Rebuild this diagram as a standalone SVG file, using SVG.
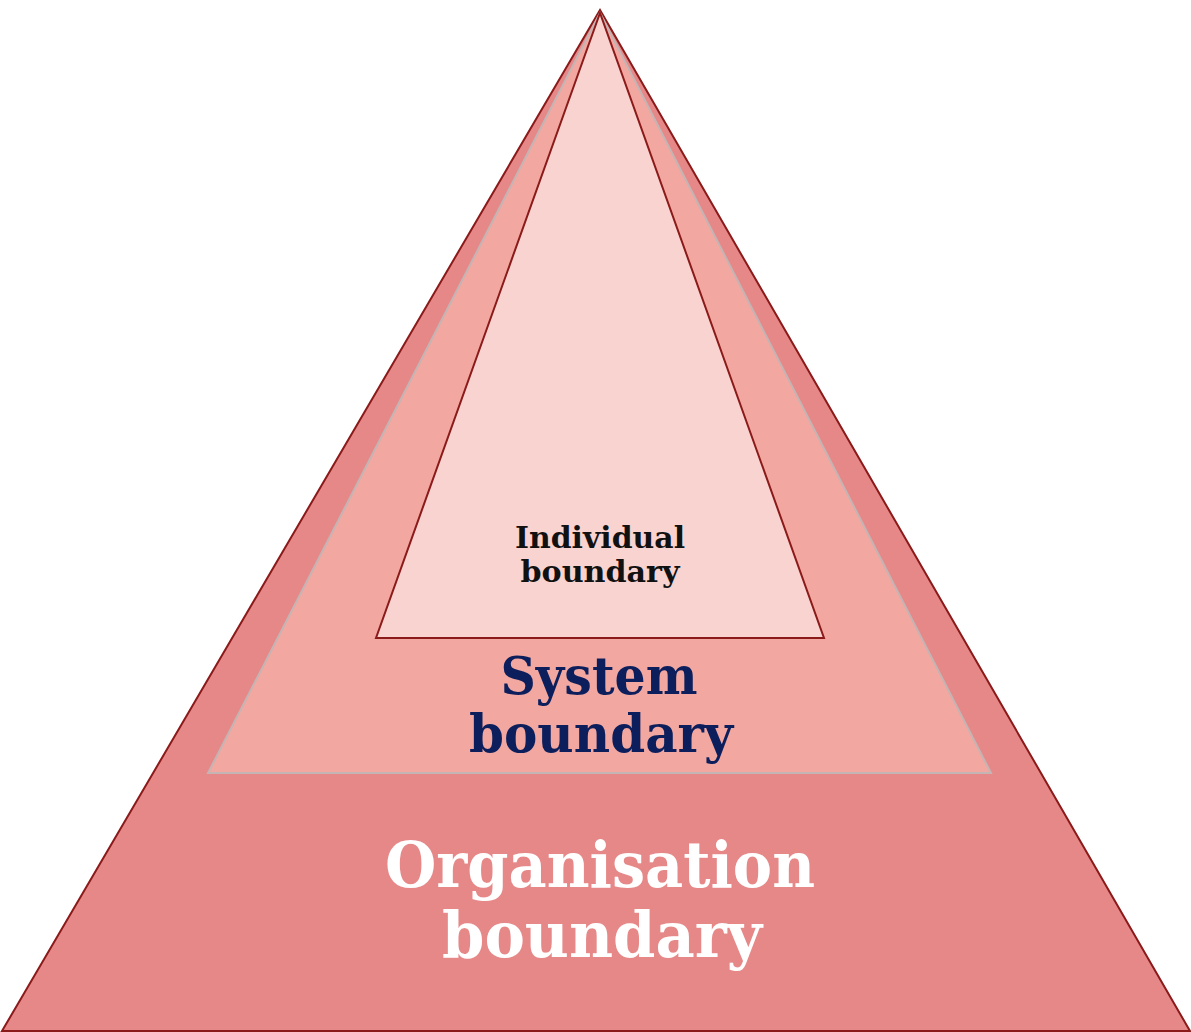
<svg xmlns="http://www.w3.org/2000/svg" width="1191" height="1032" viewBox="0 0 1191 1032">
<style>
.t{font-family:"DejaVu Serif","Liberation Serif",serif;font-weight:bold;text-anchor:middle}
</style>
<rect width="1191" height="1032" fill="#ffffff"/>
<g id="organisation">
<polygon points="600,10 2,1031 1190,1031" fill="#E68888" stroke="#8B1A1A" stroke-width="2"/>
<text class="t" x="600" y="887" font-size="64" fill="#ffffff" textLength="430" lengthAdjust="spacingAndGlyphs">Organisation</text>
<text class="t" x="602" y="957" font-size="64" fill="#ffffff" textLength="320" lengthAdjust="spacingAndGlyphs">boundary</text>
</g>
<g id="system">
<polygon points="600,13 208,773 991,773" fill="#F2A8A0" stroke="#C4B4B4" stroke-width="2"/>
<text class="t" x="599" y="694" font-size="52" fill="#0C1E5B" textLength="197" lengthAdjust="spacingAndGlyphs">System</text>
<text class="t" x="601" y="752" font-size="52" fill="#0C1E5B" textLength="264" lengthAdjust="spacingAndGlyphs">boundary</text>
</g>
<g id="individual">
<polygon points="600,13 376,638 824,638" fill="#F8D3D0" stroke="#8B1A1A" stroke-width="2"/>
<text class="t" x="600" y="548" font-size="30" fill="#111111" textLength="170" lengthAdjust="spacingAndGlyphs">Individual</text>
<text class="t" x="600" y="582" font-size="30" fill="#111111" textLength="159" lengthAdjust="spacingAndGlyphs">boundary</text>
</g>
<g id="connectors"/>
</svg>
